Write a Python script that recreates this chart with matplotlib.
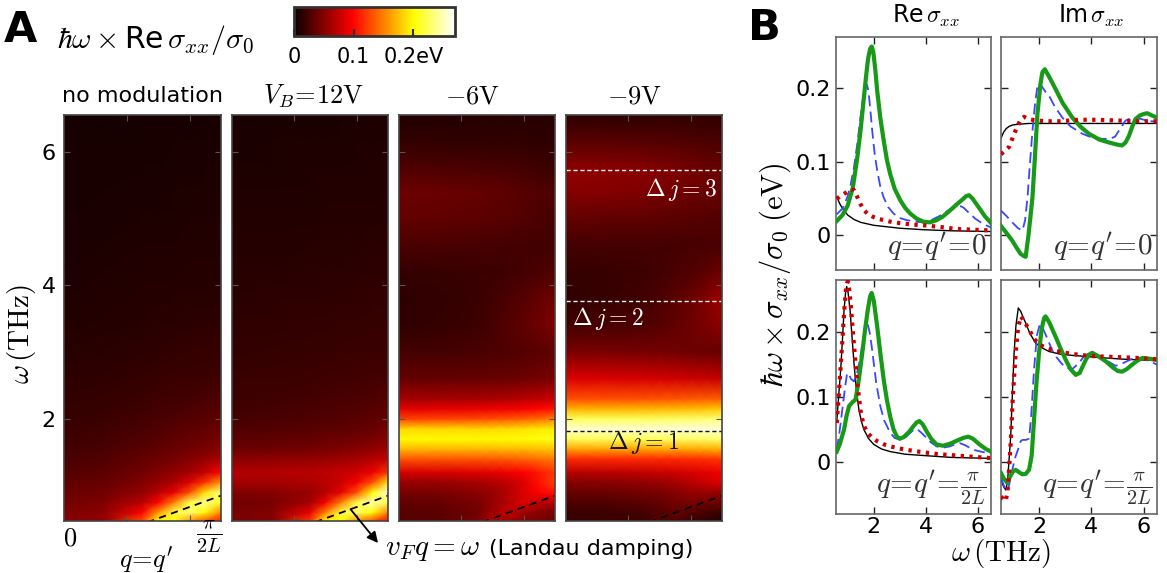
import numpy as np
import matplotlib
matplotlib.use('Agg')
import matplotlib.pyplot as plt

plt.rcParams['font.family'] = ['DejaVu Sans']
plt.rcParams['mathtext.fontset'] = 'cm'

W, H = 1167, 573

# ---------------- data: panel A heat maps (hbar*omega*Re sigma_xx/sigma_0, eV) ----------------
panel_titles = ['no modulation', r'$V_B\!=\!12\mathrm{V}$', r'$-6\mathrm{V}$', r'$-9\mathrm{V}$']
heat_q = [0, 0.25, 0.5, 0.6, 0.7, 0.8, 0.9, 1.0]          # q in units of pi/2L
heat_w = [0.47, 0.6, 0.75, 0.9, 1.05, 1.2, 1.4, 1.55, 1.7, 1.85, 2.0, 2.15,
          2.3, 2.6, 3.0, 3.4, 3.8, 4.2, 4.6, 5.0, 5.4, 5.7, 6.1, 6.55]  # THz

heat_free = [
    [0.050, 0.055, 0.13, 0.20, 0.20, 0.16, 0.13, 0.11],
    [0.047, 0.052, 0.10, 0.16, 0.22, 0.23, 0.20, 0.15],
    [0.043, 0.047, 0.070, 0.10, 0.15, 0.22, 0.24, 0.21],
    [0.038, 0.042, 0.055, 0.070, 0.090, 0.13, 0.19, 0.24],
    [0.034, 0.037, 0.048, 0.056, 0.065, 0.085, 0.12, 0.16],
    [0.030, 0.033, 0.042, 0.048, 0.054, 0.062, 0.075, 0.10],
    [0.026, 0.029, 0.036, 0.040, 0.044, 0.049, 0.055, 0.065],
    [0.024, 0.026, 0.032, 0.035, 0.038, 0.042, 0.046, 0.052],
    [0.022, 0.024, 0.029, 0.031, 0.034, 0.037, 0.040, 0.044],
    [0.020, 0.022, 0.026, 0.028, 0.031, 0.033, 0.036, 0.039],
    [0.018, 0.020, 0.024, 0.026, 0.028, 0.030, 0.032, 0.035],
    [0.017, 0.018, 0.022, 0.024, 0.025, 0.027, 0.029, 0.031],
    [0.016, 0.017, 0.020, 0.022, 0.023, 0.024, 0.026, 0.028],
    [0.014, 0.015, 0.017, 0.018, 0.019, 0.020, 0.021, 0.022],
    [0.012, 0.013, 0.014, 0.015, 0.016, 0.017, 0.017, 0.018],
    [0.010, 0.011, 0.012, 0.013, 0.013, 0.014, 0.014, 0.015],
    [0.009, 0.010, 0.011, 0.011, 0.012, 0.012, 0.012, 0.013],
    [0.008, 0.009, 0.010, 0.010, 0.010, 0.011, 0.011, 0.011],
    [0.007, 0.008, 0.009, 0.009, 0.009, 0.010, 0.010, 0.010],
    [0.007, 0.007, 0.008, 0.008, 0.008, 0.009, 0.009, 0.009],
    [0.006, 0.007, 0.007, 0.007, 0.008, 0.008, 0.008, 0.008],
    [0.006, 0.006, 0.007, 0.007, 0.007, 0.007, 0.008, 0.008],
    [0.006, 0.006, 0.006, 0.006, 0.007, 0.007, 0.007, 0.007],
    [0.005, 0.005, 0.006, 0.006, 0.006, 0.006, 0.006, 0.006],
]

heat_12v = [
    [0.046, 0.048, 0.12, 0.20, 0.20, 0.16, 0.13, 0.10],
    [0.046, 0.048, 0.09, 0.15, 0.22, 0.23, 0.20, 0.15],
    [0.042, 0.044, 0.062, 0.095, 0.15, 0.22, 0.25, 0.22],
    [0.048, 0.050, 0.058, 0.068, 0.090, 0.13, 0.20, 0.26],
    [0.062, 0.063, 0.066, 0.070, 0.077, 0.095, 0.13, 0.19],
    [0.067, 0.068, 0.070, 0.072, 0.075, 0.080, 0.092, 0.12],
    [0.052, 0.053, 0.055, 0.057, 0.060, 0.063, 0.068, 0.075],
    [0.040, 0.041, 0.043, 0.045, 0.047, 0.050, 0.054, 0.060],
    [0.033, 0.034, 0.036, 0.038, 0.040, 0.042, 0.045, 0.049],
    [0.028, 0.029, 0.031, 0.033, 0.034, 0.036, 0.038, 0.042],
    [0.025, 0.026, 0.028, 0.029, 0.030, 0.032, 0.034, 0.036],
    [0.023, 0.024, 0.026, 0.027, 0.028, 0.029, 0.031, 0.033],
    [0.021, 0.022, 0.024, 0.025, 0.026, 0.027, 0.028, 0.030],
    [0.019, 0.019, 0.021, 0.022, 0.022, 0.023, 0.024, 0.025],
    [0.016, 0.017, 0.018, 0.018, 0.019, 0.019, 0.020, 0.021],
    [0.015, 0.015, 0.016, 0.016, 0.017, 0.017, 0.018, 0.018],
    [0.013, 0.014, 0.014, 0.015, 0.015, 0.015, 0.016, 0.016],
    [0.012, 0.012, 0.013, 0.013, 0.013, 0.014, 0.014, 0.014],
    [0.011, 0.011, 0.012, 0.012, 0.012, 0.012, 0.013, 0.013],
    [0.010, 0.010, 0.010, 0.011, 0.011, 0.011, 0.011, 0.012],
    [0.009, 0.009, 0.009, 0.010, 0.010, 0.010, 0.010, 0.011],
    [0.008, 0.008, 0.009, 0.009, 0.009, 0.009, 0.010, 0.010],
    [0.007, 0.008, 0.008, 0.008, 0.008, 0.009, 0.009, 0.009],
    [0.007, 0.007, 0.007, 0.007, 0.008, 0.008, 0.008, 0.008],
]

heat_m6v = [
    [0.030, 0.032, 0.045, 0.070, 0.060, 0.050, 0.045, 0.040],
    [0.031, 0.033, 0.042, 0.060, 0.075, 0.060, 0.050, 0.045],
    [0.035, 0.037, 0.045, 0.055, 0.070, 0.085, 0.072, 0.068],
    [0.044, 0.046, 0.052, 0.058, 0.068, 0.085, 0.100, 0.105],
    [0.056, 0.058, 0.063, 0.067, 0.073, 0.086, 0.105, 0.125],
    [0.082, 0.083, 0.086, 0.088, 0.092, 0.098, 0.108, 0.122],
    [0.132, 0.132, 0.133, 0.134, 0.136, 0.139, 0.143, 0.148],
    [0.172, 0.172, 0.172, 0.172, 0.173, 0.174, 0.176, 0.178],
    [0.200, 0.200, 0.200, 0.200, 0.201, 0.202, 0.204, 0.207],
    [0.185, 0.185, 0.185, 0.186, 0.187, 0.189, 0.192, 0.196],
    [0.125, 0.126, 0.128, 0.130, 0.133, 0.137, 0.142, 0.150],
    [0.088, 0.089, 0.090, 0.092, 0.094, 0.097, 0.101, 0.106],
    [0.062, 0.063, 0.064, 0.065, 0.067, 0.070, 0.073, 0.077],
    [0.036, 0.036, 0.037, 0.038, 0.039, 0.041, 0.043, 0.046],
    [0.024, 0.024, 0.026, 0.027, 0.028, 0.030, 0.032, 0.035],
    [0.015, 0.017, 0.021, 0.025, 0.030, 0.035, 0.041, 0.048],
    [0.014, 0.016, 0.020, 0.023, 0.027, 0.031, 0.036, 0.042],
    [0.017, 0.018, 0.019, 0.020, 0.022, 0.024, 0.026, 0.029],
    [0.026, 0.026, 0.025, 0.025, 0.024, 0.024, 0.023, 0.023],
    [0.036, 0.035, 0.033, 0.032, 0.031, 0.029, 0.027, 0.025],
    [0.040, 0.039, 0.036, 0.035, 0.033, 0.031, 0.029, 0.028],
    [0.030, 0.029, 0.028, 0.027, 0.026, 0.025, 0.023, 0.021],
    [0.017, 0.017, 0.016, 0.016, 0.016, 0.016, 0.015, 0.015],
    [0.010, 0.010, 0.011, 0.011, 0.011, 0.012, 0.012, 0.013],
]

heat_m9v = [
    [0.018, 0.019, 0.022, 0.030, 0.028, 0.022, 0.016, 0.012],
    [0.020, 0.021, 0.025, 0.030, 0.036, 0.030, 0.024, 0.020],
    [0.028, 0.029, 0.033, 0.037, 0.042, 0.046, 0.042, 0.040],
    [0.038, 0.039, 0.043, 0.046, 0.050, 0.055, 0.058, 0.055],
    [0.050, 0.051, 0.055, 0.058, 0.063, 0.070, 0.078, 0.086],
    [0.070, 0.071, 0.074, 0.076, 0.079, 0.083, 0.087, 0.092],
    [0.115, 0.115, 0.115, 0.116, 0.116, 0.117, 0.118, 0.120],
    [0.165, 0.165, 0.165, 0.166, 0.166, 0.167, 0.168, 0.170],
    [0.225, 0.225, 0.225, 0.226, 0.227, 0.228, 0.229, 0.230],
    [0.258, 0.258, 0.258, 0.258, 0.259, 0.259, 0.260, 0.260],
    [0.225, 0.225, 0.226, 0.227, 0.228, 0.230, 0.232, 0.235],
    [0.170, 0.170, 0.171, 0.172, 0.173, 0.175, 0.177, 0.180],
    [0.130, 0.130, 0.131, 0.132, 0.133, 0.134, 0.135, 0.137],
    [0.085, 0.084, 0.083, 0.082, 0.081, 0.079, 0.077, 0.075],
    [0.046, 0.045, 0.044, 0.043, 0.042, 0.040, 0.038, 0.037],
    [0.024, 0.025, 0.028, 0.031, 0.035, 0.040, 0.046, 0.053],
    [0.016, 0.018, 0.023, 0.027, 0.032, 0.039, 0.048, 0.060],
    [0.017, 0.018, 0.021, 0.023, 0.026, 0.029, 0.033, 0.040],
    [0.024, 0.024, 0.024, 0.024, 0.024, 0.025, 0.025, 0.026],
    [0.036, 0.035, 0.034, 0.033, 0.032, 0.031, 0.030, 0.029],
    [0.050, 0.049, 0.047, 0.045, 0.043, 0.041, 0.039, 0.037],
    [0.054, 0.053, 0.051, 0.049, 0.047, 0.044, 0.041, 0.039],
    [0.035, 0.034, 0.033, 0.032, 0.031, 0.030, 0.029, 0.028],
    [0.014, 0.014, 0.014, 0.015, 0.015, 0.015, 0.015, 0.015],
]

landau_slope = 0.85                 # omega = v_F q line, THz per (pi/2L)
delta_j_levels = [1.82, 3.77, 5.72]  # dashed lines in the -9V panel
delta_j_labels = [r'$\Delta\,j=1$', r'$\Delta\,j=2$', r'$\Delta\,j=3$']

# ---------------- data: panel B curves (omega THz, value eV) ----------------
re0_free = [(0.58, 0.052), (0.7, 0.042), (0.86, 0.033), (1.0, 0.027), (1.24, 0.021), (1.5, 0.017),
            (1.75, 0.015), (2.0, 0.013), (2.5, 0.011), (3.0, 0.009), (3.9, 0.007), (5.0, 0.0055), (6.5, 0.0045)]
re0_12v = [(0.58, 0.049), (0.72, 0.053), (0.86, 0.056), (1.0, 0.059), (1.12, 0.062), (1.24, 0.061),
           (1.35, 0.053), (1.49, 0.042), (1.6, 0.035), (1.75, 0.029), (1.95, 0.025), (2.13, 0.022),
           (2.4, 0.020), (2.63, 0.018), (3.0, 0.016), (3.5, 0.014), (3.9, 0.013), (4.5, 0.011),
           (5.17, 0.008), (5.8, 0.007), (6.5, 0.006)]
re0_m6v = [(0.58, 0.028), (0.8, 0.036), (0.98, 0.051), (1.1, 0.066), (1.24, 0.092), (1.37, 0.125),
           (1.49, 0.160), (1.6, 0.190), (1.68, 0.203), (1.74, 0.205), (1.8, 0.195), (1.87, 0.170),
           (1.94, 0.142), (2.03, 0.112), (2.13, 0.088), (2.25, 0.066), (2.38, 0.051), (2.55, 0.038),
           (2.76, 0.029), (3.0, 0.023), (3.27, 0.020), (3.6, 0.018), (3.9, 0.017), (4.2, 0.020),
           (4.54, 0.026), (4.8, 0.032), (5.05, 0.038), (5.28, 0.040), (5.45, 0.037), (5.68, 0.029),
           (5.9, 0.022), (6.19, 0.015), (6.5, 0.010)]
re0_m9v = [(0.58, 0.019), (0.8, 0.027), (1.0, 0.040), (1.2, 0.065), (1.37, 0.106), (1.5, 0.145),
           (1.6, 0.180), (1.7, 0.215), (1.78, 0.240), (1.86, 0.254), (1.92, 0.257), (1.98, 0.250),
           (2.06, 0.225), (2.13, 0.197), (2.25, 0.160), (2.38, 0.129), (2.5, 0.103), (2.63, 0.083),
           (2.8, 0.063), (3.02, 0.047), (3.2, 0.037), (3.4, 0.029), (3.65, 0.022), (3.9, 0.018),
           (4.15, 0.017), (4.41, 0.020), (4.65, 0.025), (4.92, 0.033), (5.2, 0.042), (5.43, 0.049),
           (5.55, 0.053), (5.66, 0.054), (5.78, 0.050), (5.94, 0.042), (6.1, 0.034), (6.25, 0.026),
           (6.5, 0.016)]

im0_free = [(0.55, 0.132), (0.65, 0.140), (0.75, 0.145), (0.86, 0.148), (1.0, 0.150), (1.24, 0.151),
            (1.6, 0.152), (2.0, 0.152), (3.0, 0.152), (4.0, 0.152), (5.0, 0.152), (6.5, 0.152)]
im0_12v = [(0.55, 0.110), (0.7, 0.115), (0.86, 0.120), (1.0, 0.133), (1.17, 0.148), (1.3, 0.157),
           (1.43, 0.161), (1.6, 0.158), (1.9, 0.156), (2.3, 0.155), (2.8, 0.155), (3.5, 0.157),
           (4.2, 0.157), (5.0, 0.156), (5.8, 0.155), (6.5, 0.155)]
im0_m6v = [(0.55, 0.033), (0.75, 0.026), (0.98, 0.017), (1.2, 0.009), (1.37, 0.006), (1.47, 0.020),
           (1.56, 0.051), (1.66, 0.100), (1.75, 0.142), (1.85, 0.180), (1.94, 0.203), (2.0, 0.207),
           (2.1, 0.203), (2.25, 0.195), (2.38, 0.190), (2.6, 0.175), (2.89, 0.160), (3.2, 0.148),
           (3.65, 0.138), (4.0, 0.133), (4.41, 0.131), (4.7, 0.131), (4.9, 0.134), (5.1, 0.145),
           (5.3, 0.156), (5.56, 0.160), (5.8, 0.159), (6.1, 0.156), (6.5, 0.154)]
im0_m9v = [(0.55, 0.012), (0.75, 0.003), (0.98, -0.008), (1.15, -0.018), (1.3, -0.026), (1.42, -0.029),
           (1.49, -0.030), (1.6, 0.000), (1.75, 0.051), (1.85, 0.110), (1.94, 0.165), (2.05, 0.205),
           (2.13, 0.222), (2.22, 0.226), (2.35, 0.218), (2.5, 0.208), (2.63, 0.199), (2.9, 0.180),
           (3.27, 0.160), (3.6, 0.147), (3.9, 0.138), (4.3, 0.130), (4.67, 0.126), (5.0, 0.123),
           (5.17, 0.122), (5.3, 0.126), (5.43, 0.135), (5.56, 0.148), (5.68, 0.158), (5.85, 0.163),
           (6.0, 0.165), (6.13, 0.166), (6.3, 0.163), (6.5, 0.160)]

re1_free = [(0.58, 0.063), (0.65, 0.100), (0.73, 0.142), (0.8, 0.190), (0.86, 0.234), (0.92, 0.262),
            (0.96, 0.270), (1.01, 0.262), (1.09, 0.234), (1.17, 0.190), (1.24, 0.152), (1.33, 0.112),
            (1.43, 0.080), (1.53, 0.062), (1.62, 0.050), (1.8, 0.036), (2.0, 0.027), (2.3, 0.020),
            (2.63, 0.016), (3.2, 0.012), (3.9, 0.010), (5.0, 0.007), (6.5, 0.0056)]
re1_12v = [(0.58, 0.060), (0.65, 0.100), (0.73, 0.147), (0.8, 0.190), (0.86, 0.229), (0.93, 0.265),
           (1.0, 0.278), (1.05, 0.268), (1.11, 0.245), (1.2, 0.200), (1.3, 0.152), (1.4, 0.110),
           (1.49, 0.080), (1.6, 0.058), (1.75, 0.045), (1.95, 0.037), (2.13, 0.032), (2.4, 0.027),
           (2.63, 0.024), (3.2, 0.019), (3.9, 0.015), (4.5, 0.012), (5.17, 0.010), (5.8, 0.008),
           (6.5, 0.006)]
re1_m6v = [(0.58, 0.019), (0.68, 0.045), (0.79, 0.080), (0.9, 0.115), (0.97, 0.135), (1.03, 0.137),
           (1.12, 0.128), (1.24, 0.124), (1.35, 0.135), (1.49, 0.163), (1.6, 0.190), (1.7, 0.207),
           (1.77, 0.211), (1.84, 0.200), (1.92, 0.178), (2.0, 0.152), (2.1, 0.120), (2.25, 0.086),
           (2.4, 0.064), (2.63, 0.045), (2.8, 0.037), (3.02, 0.034), (3.2, 0.037), (3.4, 0.045),
           (3.55, 0.050), (3.65, 0.051), (3.8, 0.046), (4.03, 0.037), (4.2, 0.030), (4.41, 0.024),
           (4.65, 0.022), (4.92, 0.024), (5.1, 0.027), (5.3, 0.029), (5.5, 0.026), (5.81, 0.019),
           (6.1, 0.016), (6.5, 0.013)]
re1_m9v = [(0.58, 0.016), (0.7, 0.028), (0.86, 0.050), (0.95, 0.070), (1.05, 0.086), (1.18, 0.092),
           (1.3, 0.096), (1.42, 0.125), (1.56, 0.168), (1.67, 0.205), (1.77, 0.234), (1.86, 0.255),
           (1.92, 0.260), (2.0, 0.248), (2.13, 0.209), (2.25, 0.168), (2.38, 0.127), (2.5, 0.096),
           (2.63, 0.070), (2.76, 0.050), (2.89, 0.039), (3.0, 0.036), (3.14, 0.038), (3.35, 0.046),
           (3.52, 0.055), (3.65, 0.061), (3.75, 0.063), (3.88, 0.058), (4.03, 0.047), (4.2, 0.036),
           (4.41, 0.027), (4.65, 0.025), (4.92, 0.028), (5.2, 0.033), (5.43, 0.037), (5.62, 0.039),
           (5.8, 0.036), (6.06, 0.027), (6.3, 0.020), (6.5, 0.016)]

im1_free = [(0.55, -0.027), (0.65, -0.038), (0.73, -0.043), (0.8, -0.030), (0.86, 0.005), (0.92, 0.039),
            (0.98, 0.100), (1.05, 0.168), (1.12, 0.210), (1.21, 0.237), (1.3, 0.232), (1.4, 0.222),
            (1.49, 0.214), (1.65, 0.198), (1.87, 0.183), (2.1, 0.176), (2.38, 0.170), (2.8, 0.166),
            (3.27, 0.164), (3.9, 0.162), (4.54, 0.160), (5.3, 0.158), (6.5, 0.156)]
im1_12v = [(0.55, -0.053), (0.65, -0.058), (0.73, -0.060), (0.8, -0.045), (0.86, -0.010), (0.92, 0.030),
           (1.0, 0.100), (1.11, 0.168), (1.2, 0.205), (1.3, 0.224), (1.4, 0.219), (1.5, 0.212),
           (1.62, 0.204), (1.8, 0.190), (2.0, 0.181), (2.3, 0.175), (2.63, 0.171), (3.0, 0.168),
           (3.5, 0.165), (4.0, 0.163), (4.6, 0.162), (5.2, 0.161), (5.8, 0.160), (6.5, 0.158)]
im1_m6v = [(0.55, -0.025), (0.65, -0.035), (0.72, -0.043), (0.79, -0.045), (0.86, -0.035), (0.98, -0.012),
           (1.1, 0.008), (1.24, 0.024), (1.3, 0.032), (1.37, 0.034), (1.5, 0.034), (1.62, 0.036),
           (1.7, 0.070), (1.81, 0.142), (1.92, 0.195), (2.03, 0.212), (2.15, 0.205), (2.32, 0.190),
           (2.5, 0.172), (2.63, 0.163), (2.85, 0.152), (3.02, 0.145), (3.27, 0.143), (3.52, 0.152),
           (3.7, 0.162), (3.9, 0.167), (4.2, 0.164), (4.54, 0.157), (4.92, 0.148), (5.2, 0.152),
           (5.56, 0.159), (5.94, 0.160), (6.2, 0.155), (6.5, 0.150)]
im1_m9v = [(0.55, -0.017), (0.65, -0.025), (0.79, -0.032), (0.9, -0.022), (1.0, -0.015), (1.11, -0.012),
           (1.25, -0.016), (1.37, -0.019), (1.5, -0.018), (1.62, -0.012), (1.72, 0.010), (1.81, 0.065),
           (1.9, 0.120), (2.0, 0.168), (2.1, 0.205), (2.2, 0.222), (2.25, 0.224), (2.4, 0.214),
           (2.63, 0.193), (2.85, 0.172), (3.02, 0.157), (3.2, 0.143), (3.4, 0.134), (3.55, 0.137),
           (3.78, 0.157), (3.9, 0.165), (4.03, 0.168), (4.25, 0.163), (4.54, 0.155), (4.8, 0.146),
           (5.0, 0.140), (5.17, 0.139), (5.35, 0.143), (5.56, 0.150), (5.75, 0.156), (5.94, 0.160),
           (6.2, 0.159), (6.5, 0.157)]

# ---------------- helpers ----------------
def box(x0, y0, x1, y1):
    # pixel box (left, top, right, bottom) -> figure fraction rect
    return [x0 / W, 1 - y1 / H, (x1 - x0) / W, (y1 - y0) / H]

def fx(x):
    return x / W

def fy(y):
    return 1 - y / H

fig = plt.figure(figsize=(W / 100, H / 100), dpi=100)

VMAX = 0.27
heat_boxes = [(64, 115, 221, 521), (232, 115, 388, 521), (399, 115, 555, 521), (566, 115, 722, 521)]
heat_data = [heat_free, heat_12v, heat_m6v, heat_m9v]
title_x = [143, 313, 472, 634]
QQ, WW = np.meshgrid(heat_q, heat_w)

heat_axes = []
for i, (bx, z) in enumerate(zip(heat_boxes, heat_data)):
    ax = fig.add_axes(box(*bx))
    mesh = ax.pcolormesh(QQ, WW, np.array(z), shading='gouraud', cmap='hot',
                         vmin=0, vmax=VMAX, rasterized=True)
    ql = np.array([0, 1.0])
    ax.plot(ql, landau_slope * ql, color='k', ls=(0, (4, 3)), lw=1.3)
    ax.set_xlim(0, 1)
    ax.set_ylim(0.47, 6.55)
    ax.set_yticks([2, 4, 6])
    ax.set_xticks([0.4, 0.8])
    ax.tick_params(direction='in', length=4, width=0.8, color='#555555',
                   top=True, right=True, labelsize=16, pad=6)
    ax.set_xticklabels([])
    if i > 0:
        ax.set_yticklabels([])
    for s in ax.spines.values():
        s.set_color('#444444')
        s.set_linewidth(1.2)
    fig.text(fx(title_x[i]), fy(96), panel_titles[i], ha='center', va='center',
             fontsize=16 if i == 0 else 19)
    heat_axes.append(ax)

# Delta j lines in the -9V panel
ax4 = heat_axes[3]
for lev, col in zip(delta_j_levels, ['#111111', 'white', 'white']):
    ax4.axhline(lev, color=col, ls=(0, (3, 2)), lw=1.0)
ax4.text(0.27, 1.64, delta_j_labels[0], color='#111111', fontsize=17, ha='left', va='center')
ax4.text(0.04, 3.51, delta_j_labels[1], color='white', fontsize=17, ha='left', va='center')
ax4.text(0.97, 5.43, delta_j_labels[2], color='white', fontsize=17, ha='right', va='center')

# colorbar
cax = fig.add_axes(box(294, 7, 455, 36))
cb = fig.colorbar(mesh, cax=cax, orientation='horizontal', ticks=[0, 0.1, 0.2])
cb.set_ticklabels(['0', '0.1', '0.2eV'])
cb.ax.tick_params(direction='in', length=5, width=1.5, color='#333333', labelsize=15, pad=8)
cb.outline.set_linewidth(2)
cb.outline.set_edgecolor('#333333')

fig.text(fx(4), fy(30), 'A', fontsize=31, fontweight='bold', va='center', ha='left')
fig.text(fx(57), fy(40), r'$\hbar\omega\times$Re$\,\sigma_{xx}/\sigma_0$', fontsize=21.5,
         va='center', ha='left')
fig.text(fx(22), fy(334), r'$\omega\,(\mathrm{THz})$', rotation=90, fontsize=21, ha='center', va='center')
fig.text(fx(70), fy(538), r'$0$', fontsize=19, ha='center', va='center')
fig.text(fx(209), fy(537), r'$\frac{\pi}{2L}$', fontsize=21, ha='center', va='center')
fig.text(fx(146), fy(560), r"$q\!=\!q'$", fontsize=19, ha='center', va='center')

# Landau damping annotation
heat_axes[1].annotate('', xy=(fx(378), fy(543)), xycoords='figure fraction',
                      xytext=(0.76, landau_slope * 0.76), textcoords='data',
                      arrowprops=dict(arrowstyle='-|>', color='k', lw=1.3, mutation_scale=16,
                                      shrinkA=0, shrinkB=0), annotation_clip=False)
fig.text(fx(385), fy(549), r'$v_Fq=\omega$', fontsize=21, ha='left', va='center')
fig.text(fx(489), fy(549), '(Landau damping)', fontsize=16, ha='left', va='center')

# ---------------- panel B ----------------
b_boxes = [(836, 37, 991, 270), (1001, 37, 1157, 270), (836, 280, 991, 514), (1001, 280, 1157, 514)]
b_sets = [(re0_free, re0_12v, re0_m6v, re0_m9v), (im0_free, im0_12v, im0_m6v, im0_m9v),
          (re1_free, re1_12v, re1_m6v, re1_m9v), (im1_free, im1_12v, im1_m6v, im1_m9v)]
b_ylims = [(-0.048, 0.27), (-0.048, 0.27), (-0.08, 0.28), (-0.08, 0.28)]
b_notes = [r"$q\!=\!q'\!=\!0$", r"$q\!=\!q'\!=\!0$",
           r"$q\!=\!q'\!=\!\frac{\pi}{2L}$", r"$q\!=\!q'\!=\!\frac{\pi}{2L}$"]

for k, (bx, curves) in enumerate(zip(b_boxes, b_sets)):
    ax = fig.add_axes(box(*bx))
    free, v12, m6, m9 = [np.array(c).T for c in curves]
    ax.plot(free[0], free[1], color='black', lw=1.0, zorder=2)
    ax.plot(m6[0], m6[1], color='#3a46ff', lw=1.3, ls=(0, (6, 3)), zorder=3)
    ax.plot(m9[0], m9[1], color='#179a17', lw=3.0, zorder=4)
    ax.plot(v12[0], v12[1], color='#cc0000', lw=3.0, ls=(0, (0.8, 1.3)), zorder=5)
    ax.set_xlim(0.55, 6.5)
    ax.set_ylim(*b_ylims[k])
    ax.set_xticks([2, 4, 6])
    ax.set_yticks([0, 0.1, 0.2])
    ax.set_yticklabels(['0', '0.1', '0.2'])
    ax.tick_params(direction='in', length=5, width=1, color='#222222', top=True, right=True,
                   labelsize=16, pad=4)
    ax.tick_params(axis='x', pad=2)
    if k % 2 == 1:
        ax.set_yticklabels([])
    if k < 2:
        ax.set_xticklabels([])
    for s in ax.spines.values():
        s.set_color('#666666')
        s.set_linewidth(1.2)
    ax.text(0.97, 0.03, b_notes[k], transform=ax.transAxes, ha='right', va='bottom',
            fontsize=21, color='#333333')

fig.text(fx(748), fy(28), 'B', fontsize=31, fontweight='bold', va='center', ha='left')
fig.text(fx(926), fy(16), r'Re$\,\sigma_{xx}$', fontsize=17, ha='center', va='center')
fig.text(fx(1091), fy(16), r'Im$\,\sigma_{xx}$', fontsize=17, ha='center', va='center')
fig.text(fx(775), fy(275), r'$\hbar\omega\times\sigma_{xx}/\sigma_0\;(\mathrm{eV})$', rotation=90,
         fontsize=22, ha='center', va='center')
fig.text(fx(1001), fy(554), r'$\omega\,(\mathrm{THz})$', fontsize=21, ha='center', va='center')

fig.savefig('out.png', dpi=100)
